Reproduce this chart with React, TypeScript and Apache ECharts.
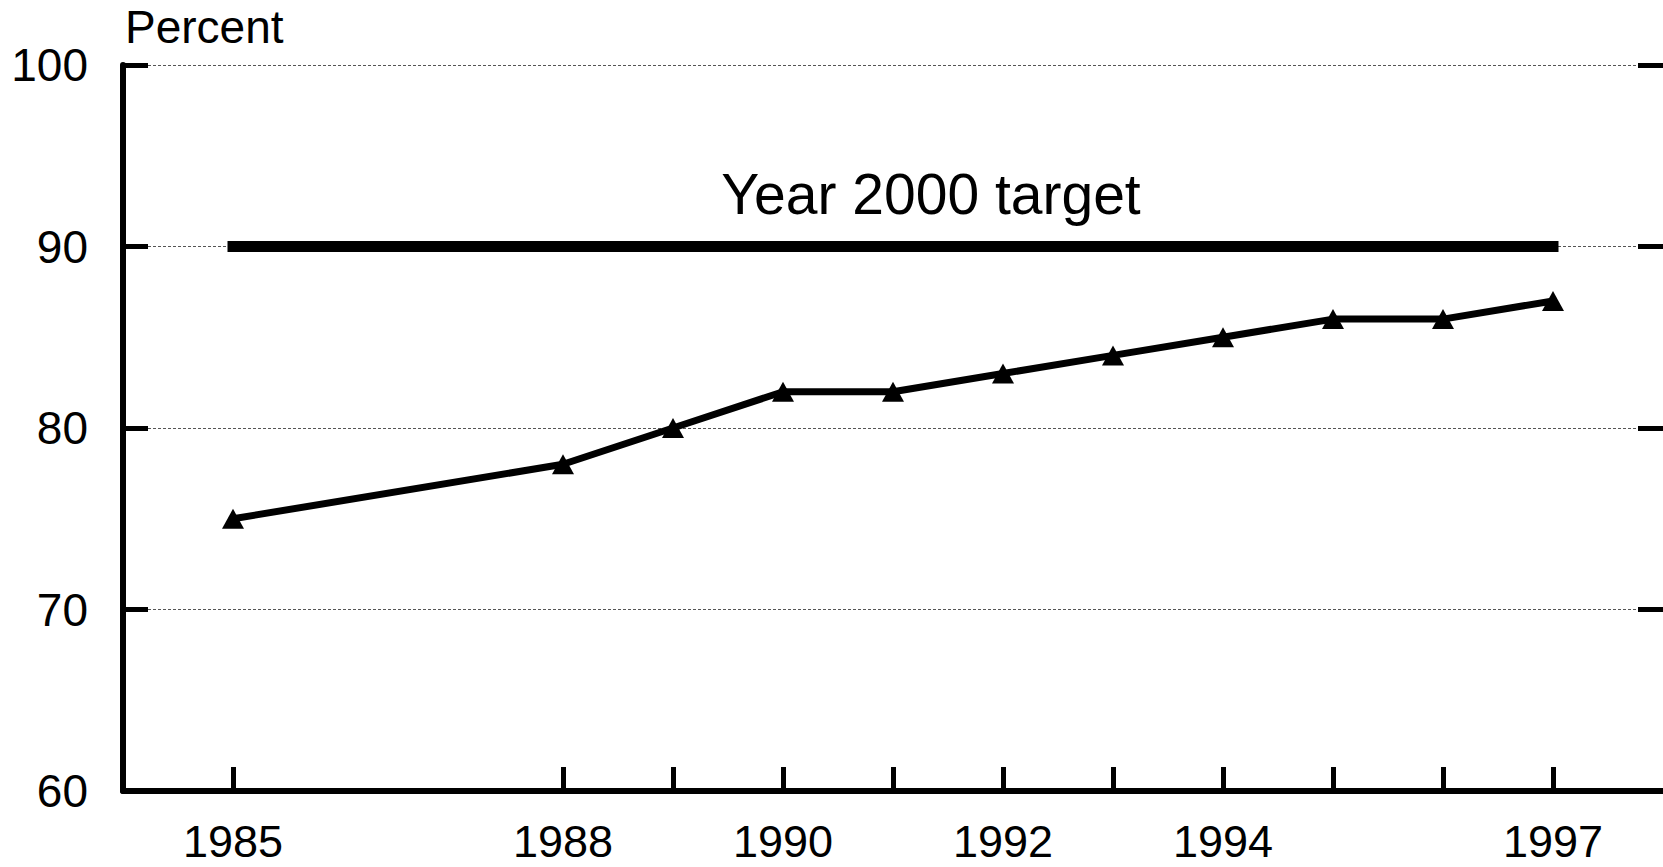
import React, { useEffect, useRef } from "react";
import * as echarts from "echarts";

const years = ["1984", "1985", "1986", "1987", "1988", "1989", "1990", "1991", "1992", "1993", "1994", "1995", "1996", "1997", "1998"];
const percentValues: (number | null)[] = [null, 75, null, null, 78, 80, 82, 82, 83, 84, 85, 86, 86, 87, null];
const targetValues: (number | null)[] = [null, 90, 90, 90, 90, 90, 90, 90, 90, 90, 90, 90, 90, 90, null];
const labeledYears = ["1985", "1988", "1990", "1992", "1994", "1997"];
const tickedYears = ["1985", "1988", "1989", "1990", "1991", "1992", "1993", "1994", "1995", "1996", "1997"];
const yMin = 60;
const yMax = 100;
const yStep = 10;
const targetLabel = "Year 2000 target";
const yTitle = "Percent";

const FONT = "'Liberation Sans', Arial, sans-serif";

export default function App() {
  const ref = useRef<HTMLDivElement>(null);
  useEffect(() => {
    if (!ref.current) return;
    const chart = echarts.init(ref.current, null, { renderer: "svg" });
    const yAxisCommon = {
      type: "value" as const,
      min: yMin,
      max: yMax,
      interval: yStep,
      axisTick: { show: true, inside: true, length: 25, lineStyle: { color: "#000", width: 5 } },
    };
    chart.setOption({
      animation: false,
      backgroundColor: "#fff",
      textStyle: { fontFamily: FONT },
      grid: { left: 123, right: -4, top: 65, bottom: 76, containLabel: false },
      xAxis: {
        type: "category",
        data: years,
        boundaryGap: false,
        axisLine: { show: true, onZero: false, lineStyle: { color: "#000", width: 6 } },
        axisTick: {
          show: true,
          inside: true,
          length: 24,
          alignWithLabel: true,
          interval: (_i: number, v: string) => tickedYears.includes(v),
          lineStyle: { color: "#000", width: 5 },
        },
        axisLabel: {
          show: true,
          interval: (_i: number, v: string) => labeledYears.includes(v),
          color: "#000",
          fontSize: 45,
          lineHeight: 40,
          fontFamily: FONT,
          margin: 30,
        },
        splitLine: { show: false },
      },
      yAxis: [
        {
          ...yAxisCommon,
          position: "left",
          axisLine: { show: true, lineStyle: { color: "#000", width: 6 } },
          axisLabel: { color: "#000", fontSize: 46, fontFamily: FONT, margin: 35 },
          splitLine: {
            show: true,
            lineStyle: { color: "#555", width: 1, type: [3, 2] },
          },
        },
        {
          ...yAxisCommon,
          position: "right",
          axisLine: { show: false },
          axisLabel: { show: false },
          splitLine: { show: false },
        },
      ],
      series: [
        {
          name: "Target",
          type: "line",
          data: targetValues,
          showSymbol: false,
          symbol: "none",
          lineStyle: { color: "#000", width: 11, cap: "square" },
          z: 3,
        },
        {
          name: "Percent",
          type: "line",
          data: percentValues,
          connectNulls: true,
          symbol: "triangle",
          symbolSize: [22, 20],
          itemStyle: { color: "#000" },
          lineStyle: { color: "#000", width: 7 },
          z: 4,
        },
      ],
      graphic: [
        {
          type: "text",
          left: 125,
          top: 4,
          style: { text: yTitle, fill: "#000", fontSize: 46, fontFamily: FONT },
        },
        {
          type: "text",
          x: 931,
          y: 222,
          style: {
            text: targetLabel,
            fill: "#000",
            fontSize: 57,
            fontFamily: FONT,
            textAlign: "center",
            textVerticalAlign: "bottom",
          },
        },
      ],
    });
    return () => chart.dispose();
  }, []);
  return <div ref={ref} style={{ position: "absolute", left: 0, top: 0, width: 1663, height: 867 }} />;
}
